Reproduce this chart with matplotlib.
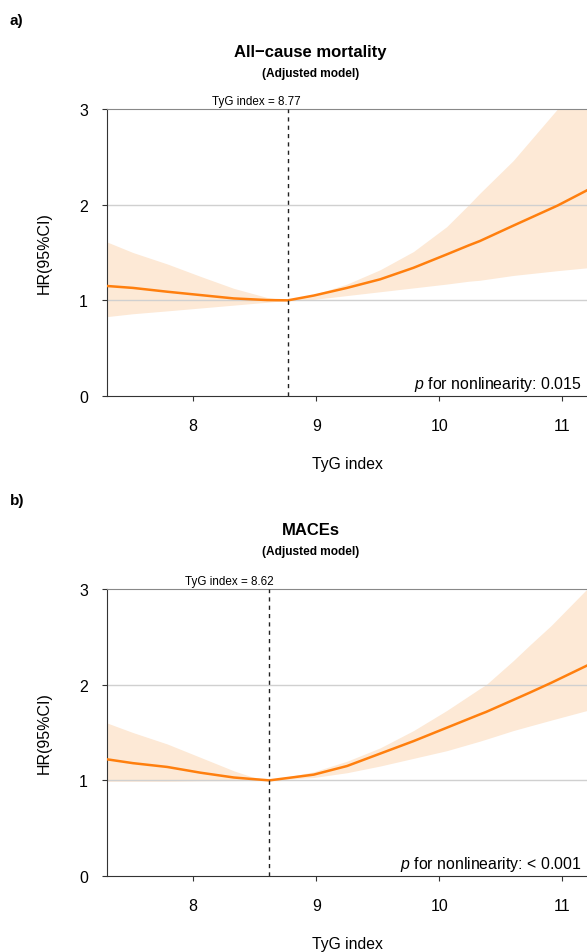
import matplotlib
matplotlib.use("Agg")
import matplotlib.pyplot as plt

plt.rcParams['font.family'] = ['Liberation Sans', 'DejaVu Sans']
plt.rcParams['mathtext.fontset'] = 'custom'
plt.rcParams['mathtext.it'] = 'Liberation Sans:italic'
plt.rcParams['mathtext.rm'] = 'Liberation Sans'

# panel a: all-cause mortality
x_a = [7.30, 7.51, 7.79, 8.06, 8.33, 8.60, 8.77, 8.98, 9.25, 9.52, 9.79,
       10.06, 10.24, 10.33, 10.60, 10.96, 11.20]
hr_a = [1.15, 1.13, 1.09, 1.055, 1.02, 1.003, 1.00, 1.05, 1.13, 1.22, 1.34,
        1.48, 1.575, 1.62, 1.78, 1.99, 2.15]
lo_a = [0.83, 0.86, 0.89, 0.92, 0.95, 0.98, 1.00, 1.01, 1.05, 1.09, 1.13,
        1.17, 1.20, 1.21, 1.26, 1.31, 1.34]
hi_a = [1.61, 1.50, 1.38, 1.25, 1.125, 1.03, 1.00, 1.06, 1.17, 1.32, 1.51,
        1.77, 2.00, 2.12, 2.46, 3.00, 3.45]

# panel b: MACEs
x_b = [7.30, 7.51, 7.79, 8.06, 8.33, 8.47, 8.62, 8.98, 9.25, 9.52, 9.79,
       10.06, 10.33, 10.38, 10.60, 10.74, 10.91, 11.20]
hr_b = [1.22, 1.18, 1.14, 1.08, 1.03, 1.015, 1.00, 1.06, 1.15, 1.28, 1.41,
        1.55, 1.69, 1.715, 1.84, 1.92, 2.02, 2.20]
lo_b = [0.99, 0.99, 0.99, 0.995, 0.997, 0.998, 1.00, 1.03, 1.08, 1.15, 1.23,
        1.31, 1.41, 1.43, 1.52, 1.57, 1.63, 1.73]
hi_b = [1.60, 1.50, 1.38, 1.24, 1.10, 1.04, 1.00, 1.09, 1.20, 1.34, 1.52,
        1.73, 1.96, 2.00, 2.25, 2.42, 2.62, 3.00]

cuts = [8.77, 8.62]
titles = ["All\u2212cause mortality", "MACEs"]
pvals = ["0.015", "< 0.001"]
letters = ["a)", "b)"]
xticks = [8, 9, 10, 11]
yticks = [0, 1, 2, 3]

line_col = "#FF7F0E"
fill_col = "#FDE9D6"

fig = plt.figure(figsize=(5.87, 9.53), dpi=100)

panels = [(x_a, hr_a, lo_a, hi_a, 0.5834), (x_b, hr_b, lo_b, hi_b, 0.0797)]
# y positions (figure fraction) of letter, title, subtitle
head_y = [(0.978, 0.945, 0.922), (0.474, 0.4438, 0.4213)]
label_shift = [0.26, 0.33]

for i, (xs, hr, lo, hi, bottom) in enumerate(panels):
    ax = fig.add_axes([0.1823, bottom, 0.8177, 0.3012])
    ax.fill_between(xs, lo, hi, color=fill_col, lw=0, zorder=1)
    ax.plot(xs, hr, color=line_col, lw=1.8, zorder=3, solid_joinstyle="round")
    for g in [1, 2]:
        ax.axhline(g, color="#d0d0d0", lw=1.0, zorder=2)
    ax.axvline(cuts[i], color="#222222", lw=1.0, ls=(0, (3, 3)), zorder=4)
    ax.set_xlim(7.30, 11.20)
    ax.set_ylim(0, 3)
    ax.set_xticks(xticks)
    ax.set_yticks(yticks)
    ax.tick_params(axis="both", labelsize=11.5, length=3.6, width=0.8,
                   color="#333333")
    ax.tick_params(axis="x", pad=12)
    ax.tick_params(axis="y", pad=10)
    ax.spines["left"].set_color("#333333")
    ax.spines["bottom"].set_color("#333333")
    ax.spines["top"].set_color("#888888")
    ax.spines["right"].set_visible(False)
    ax.set_ylabel("HR(95%CI)", fontsize=11.5, labelpad=20)
    ax.set_xlabel("TyG index", fontsize=11.3, labelpad=17)
    ax.text(cuts[i] - label_shift[i], 3.02, f"TyG index = {cuts[i]:.2f}",
            ha="center", va="bottom", fontsize=8.4)
    ax.text(0.988, 0.012, r"$\it{p}$ for nonlinearity: " + pvals[i],
            transform=ax.transAxes, ha="right", va="bottom", fontsize=11.4)

    ly, ty, sy = head_y[i]
    fig.text(0.017, ly, letters[i], fontsize=11, fontweight="bold", va="center")
    fig.text(0.529, ty, titles[i], fontsize=12, fontweight="bold",
             ha="center", va="center")
    fig.text(0.529, sy, "(Adjusted model)", fontsize=8.6, fontweight="bold",
             ha="center", va="center")

fig.savefig("out.png", dpi=100)
